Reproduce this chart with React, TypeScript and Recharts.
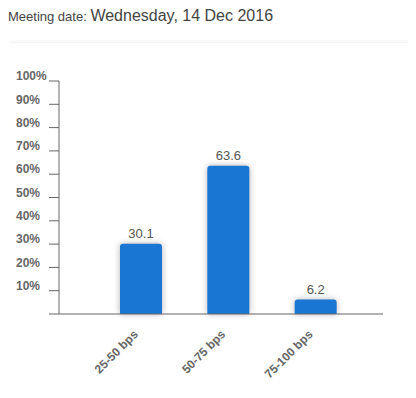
import { BarChart, Bar, XAxis, YAxis, LabelList, Rectangle } from "recharts";

const categories = ["25-50 bps", "50-75 bps", "75-100 bps"];
const probabilities = [30.1, 63.6, 6.2];
const yTicks = [0, 10, 20, 30, 40, 50, 60, 70, 80, 90, 100];

const data = categories.map((name, i) => ({ name, value: probabilities[i] }));

function YTick({ y, payload }: any) {
  if (payload.value === 0) return null;
  return (
    <text x={8} y={y - 5} dy="0.35em" textAnchor="start" fill="#666" fontSize={12} fontWeight="bold">
      {payload.value}%
    </text>
  );
}

function XTick({ x, y, payload }: any) {
  return (
    <g transform={`translate(${x - 8},${y + 7})`}>
      <text x={0} y={0} dy="0.71em" textAnchor="end" fill="#666" fontSize={12} fontWeight="bold" transform="rotate(-45)">
        {payload.value}
      </text>
    </g>
  );
}

function ShadowBar(props: any) {
  return (
    <Rectangle
      {...props}
      radius={[3, 3, 0, 0]}
      style={{ filter: "drop-shadow(0 0 3px rgba(0,0,0,0.3))" }}
    />
  );
}

export default function App() {
  return (
    <div style={{ fontFamily: "Arial, 'Liberation Sans', sans-serif", color: "#444" }}>
      <div style={{ height: 35, lineHeight: "16px" }}>
        <span style={{ fontSize: 13 }}>Meeting date: </span>
        <span style={{ fontSize: 16 }}>Wednesday, 14 Dec 2016</span>
      </div>
      <div
        style={{
          width: 400,
          height: 341,
          background: "#fff",
          boxShadow: "1px 2px 5px rgba(0,0,0,0.3)",
        }}
      >
        <BarChart width={400} height={341} data={data} margin={{ top: 38, right: 25, left: 0, bottom: 10 }}>
          <XAxis
            dataKey="name"
            axisLine={{ stroke: "#666" }}
            tickLine={false}
            interval={0}
            height={60}
            padding={{ left: 38, right: 24 }}
            tick={<XTick />}
          />
          <YAxis
            width={51}
            domain={[0, 100]}
            ticks={yTicks}
            interval={0}
            axisLine={{ stroke: "#666" }}
            tickLine={{ stroke: "#666" }}
            tickSize={10}
            tick={<YTick />}
          />
          <Bar dataKey="value" fill="#1976d2" barSize={42} isAnimationActive={false} shape={<ShadowBar />}>
            <LabelList dataKey="value" position="top" offset={6} fill="#555" fontSize={13} />
          </Bar>
        </BarChart>
      </div>
    </div>
  );
}
